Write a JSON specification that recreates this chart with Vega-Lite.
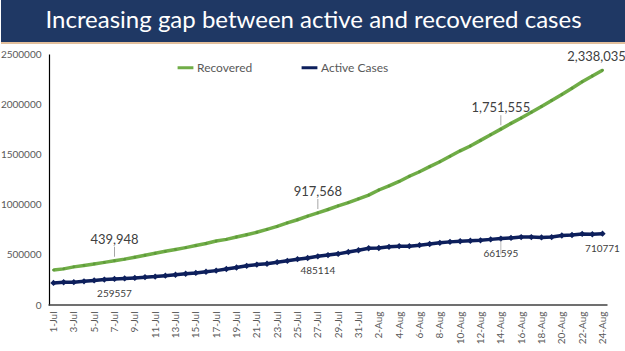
{
  "$schema": "https://vega.github.io/schema/vega-lite/v6.json",
  "padding": 0,
  "spacing": 0,
  "bounds": "full",
  "background": "white",
  "resolve": {"legend": {"color": "independent"}},
  "config": {"view": {"stroke": null}, "font": "Lato"},
  "datasets": {
    "banner": [{"t": "Increasing gap between active and recovered cases"}],
    "blank": [{"t": ""}],
    "series": [
      {"d": "1-Jul", "Recovered": 347979, "Active Cases": 220114},
      {"d": "2-Jul", "Recovered": 359860, "Active Cases": 226947},
      {"d": "3-Jul", "Recovered": 379892, "Active Cases": 227439},
      {"d": "4-Jul", "Recovered": 394227, "Active Cases": 235433},
      {"d": "5-Jul", "Recovered": 409083, "Active Cases": 244814},
      {"d": "6-Jul", "Recovered": 424433, "Active Cases": 253287},
      {"d": "7-Jul", "Recovered": 439948, "Active Cases": 259557},
      {"d": "8-Jul", "Recovered": 456831, "Active Cases": 264944},
      {"d": "9-Jul", "Recovered": 476378, "Active Cases": 269789},
      {"d": "10-Jul", "Recovered": 495513, "Active Cases": 276882},
      {"d": "11-Jul", "Recovered": 515386, "Active Cases": 283407},
      {"d": "12-Jul", "Recovered": 534621, "Active Cases": 292258},
      {"d": "13-Jul", "Recovered": 553471, "Active Cases": 301609},
      {"d": "14-Jul", "Recovered": 571460, "Active Cases": 311565},
      {"d": "15-Jul", "Recovered": 592032, "Active Cases": 319840},
      {"d": "16-Jul", "Recovered": 612815, "Active Cases": 331146},
      {"d": "17-Jul", "Recovered": 636602, "Active Cases": 342473},
      {"d": "18-Jul", "Recovered": 653751, "Active Cases": 358692},
      {"d": "19-Jul", "Recovered": 677423, "Active Cases": 373379},
      {"d": "20-Jul", "Recovered": 700087, "Active Cases": 390459},
      {"d": "21-Jul", "Recovered": 724578, "Active Cases": 402529},
      {"d": "22-Jul", "Recovered": 753050, "Active Cases": 411133},
      {"d": "23-Jul", "Recovered": 782607, "Active Cases": 426167},
      {"d": "24-Jul", "Recovered": 817209, "Active Cases": 440135},
      {"d": "25-Jul", "Recovered": 849432, "Active Cases": 456071},
      {"d": "26-Jul", "Recovered": 885577, "Active Cases": 467882},
      {"d": "27-Jul", "Recovered": 917568, "Active Cases": 485114},
      {"d": "28-Jul", "Recovered": 951166, "Active Cases": 496988},
      {"d": "29-Jul", "Recovered": 988029, "Active Cases": 509447},
      {"d": "30-Jul", "Recovered": 1019735, "Active Cases": 528242},
      {"d": "31-Jul", "Recovered": 1057806, "Active Cases": 545318},
      {"d": "1-Aug", "Recovered": 1094374, "Active Cases": 565103},
      {"d": "2-Aug", "Recovered": 1145629, "Active Cases": 567730},
      {"d": "3-Aug", "Recovered": 1186203, "Active Cases": 579357},
      {"d": "4-Aug", "Recovered": 1230509, "Active Cases": 585587},
      {"d": "5-Aug", "Recovered": 1282215, "Active Cases": 586244},
      {"d": "6-Aug", "Recovered": 1327200, "Active Cases": 595501},
      {"d": "7-Aug", "Recovered": 1378105, "Active Cases": 607384},
      {"d": "8-Aug", "Recovered": 1427005, "Active Cases": 619088},
      {"d": "9-Aug", "Recovered": 1480884, "Active Cases": 628747},
      {"d": "10-Aug", "Recovered": 1535743, "Active Cases": 634945},
      {"d": "11-Aug", "Recovered": 1583489, "Active Cases": 639929},
      {"d": "12-Aug", "Recovered": 1639599, "Active Cases": 643948},
      {"d": "13-Aug", "Recovered": 1695982, "Active Cases": 653622},
      {"d": "14-Aug", "Recovered": 1751555, "Active Cases": 661595},
      {"d": "15-Aug", "Recovered": 1808936, "Active Cases": 668220},
      {"d": "16-Aug", "Recovered": 1862258, "Active Cases": 676514},
      {"d": "17-Aug", "Recovered": 1919842, "Active Cases": 676900},
      {"d": "18-Aug", "Recovered": 1977779, "Active Cases": 673166},
      {"d": "19-Aug", "Recovered": 2037870, "Active Cases": 676514},
      {"d": "20-Aug", "Recovered": 2096664, "Active Cases": 692028},
      {"d": "21-Aug", "Recovered": 2158946, "Active Cases": 697330},
      {"d": "22-Aug", "Recovered": 2222577, "Active Cases": 707668},
      {"d": "23-Aug", "Recovered": 2280566, "Active Cases": 704348},
      {"d": "24-Aug", "Recovered": 2338035, "Active Cases": 710771}
    ],
    "notes": [
      {"d": "7-Jul", "s": "Recovered", "v": 439948, "t": "439,948"},
      {"d": "27-Jul", "s": "Recovered", "v": 917568, "t": "917,568"},
      {"d": "14-Aug", "s": "Recovered", "v": 1751555, "t": "1,751,555"},
      {"d": "24-Aug", "s": "Recovered", "v": 2338035, "t": "2,338,035"},
      {"d": "7-Jul", "s": "Active Cases", "v": 259557, "t": "259557"},
      {"d": "27-Jul", "s": "Active Cases", "v": 485114, "t": "485114"},
      {"d": "14-Aug", "s": "Active Cases", "v": 661595, "t": "661595"},
      {"d": "24-Aug", "s": "Active Cases", "v": 710771, "t": "710771"}
    ],
    "axisline": [{"a": "1-Jul", "b": "24-Aug", "z": 0}]
  },
  "vconcat": [
    {
      "width": 625,
      "height": 42,
      "view": {"fill": "#1F3864", "stroke": null},
      "data": {"name": "banner"},
      "mark": {"type": "text", "color": "white", "fontSize": 24, "font": "Lato", "baseline": "middle", "align": "center"},
      "encoding": {"text": {"field": "t"}}
    },
    {
      "width": 625,
      "height": 2,
      "view": {"fill": "#E2BF9C", "stroke": null},
      "data": {"name": "blank"},
      "mark": {"type": "rect", "color": "#E2BF9C"}
    },
    {
      "width": 625,
      "height": 5,
      "data": {"name": "blank"},
      "mark": {"type": "rect", "opacity": 0}
    },
    {
      "width": 625,
      "height": 251,
      "encoding": {
        "x": {
          "field": "d",
          "type": "ordinal",
          "sort": null,
          "scale": {
            "type": "point",
            "padding": 0,
            "range": [52.5, 601.5],
            "domain": ["1-Jul","2-Jul","3-Jul","4-Jul","5-Jul","6-Jul","7-Jul","8-Jul","9-Jul","10-Jul","11-Jul","12-Jul","13-Jul","14-Jul","15-Jul","16-Jul","17-Jul","18-Jul","19-Jul","20-Jul","21-Jul","22-Jul","23-Jul","24-Jul","25-Jul","26-Jul","27-Jul","28-Jul","29-Jul","30-Jul","31-Jul","1-Aug","2-Aug","3-Aug","4-Aug","5-Aug","6-Aug","7-Aug","8-Aug","9-Aug","10-Aug","11-Aug","12-Aug","13-Aug","14-Aug","15-Aug","16-Aug","17-Aug","18-Aug","19-Aug","20-Aug","21-Aug","22-Aug","23-Aug","24-Aug"]
          },
          "axis": {
            "title": null,
            "values": ["1-Jul","3-Jul","5-Jul","7-Jul","9-Jul","11-Jul","13-Jul","15-Jul","17-Jul","19-Jul","21-Jul","23-Jul","25-Jul","27-Jul","29-Jul","31-Jul","2-Aug","4-Aug","6-Aug","8-Aug","10-Aug","12-Aug","14-Aug","16-Aug","18-Aug","20-Aug","22-Aug","24-Aug"],
            "labelAngle": -90,
            "labelFontSize": 10,
            "labelColor": "#595959",
            "labelPadding": 6,
            "ticks": false,
            "domain": false,
            "grid": false
          }
        },
        "y": {
          "field": "v",
          "type": "quantitative",
          "scale": {"domain": [0, 2500000], "nice": false, "zero": true},
          "axis": {
            "title": null,
            "offset": -48,
            "values": [0, 500000, 1000000, 1500000, 2000000, 2500000],
            "format": "d",
            "labelFontSize": 10,
            "labelColor": "#595959",
            "labelPadding": 8,
            "ticks": false,
            "grid": false,
            "domainColor": "#000000",
            "domainWidth": 1.2
          }
        }
      },
      "layer": [
        {
          "data": {"name": "axisline"},
          "mark": {"type": "rule", "color": "#404040", "strokeWidth": 1.5, "xOffset": -5, "x2Offset": 5},
          "encoding": {
            "x": {"field": "a", "type": "ordinal"},
            "x2": {"field": "b"},
            "y": {"field": "z", "type": "quantitative"}
          }
        },
        {
          "data": {"name": "series"},
          "transform": [{"fold": ["Recovered", "Active Cases"], "as": ["s", "v"]}],
          "mark": {"type": "line", "strokeWidth": 3.5},
          "encoding": {
            "color": {
              "field": "s",
              "type": "nominal",
              "scale": {"domain": ["Recovered", "Active Cases"], "range": ["#70AD47", "#0D1F5C"]},
              "legend": {
                "title": null,
                "orient": "none",
                "direction": "horizontal",
                "legendX": 175,
                "legendY": 4,
                "symbolType": "stroke",
                "symbolStrokeWidth": 3,
                "symbolSize": 250,
                "labelFontSize": 12,
                "labelColor": "#595959",
                "labelOffset": 2,
                "columnPadding": 42
              }
            }
          }
        },
        {
          "data": {"name": "series"},
          "mark": {"type": "point", "filled": true, "opacity": 1, "shape": "circle", "size": 8, "color": "#5E9A3A"},
          "encoding": {"y": {"field": "Recovered", "type": "quantitative"}}
        },
        {
          "data": {"name": "series"},
          "mark": {"type": "point", "filled": true, "opacity": 1, "shape": "diamond", "size": 40, "color": "#0D1F5C"},
          "encoding": {"y": {"field": "Active Cases", "type": "quantitative"}}
        },
        {
          "data": {"name": "notes"},
          "transform": [{"filter": "datum.s === 'Recovered' && datum.d !== '24-Aug'"}],
          "mark": {"type": "tick", "orient": "vertical", "size": 10, "thickness": 1, "yOffset": -9, "color": "#808080"}
        },
        {
          "data": {"name": "notes"},
          "transform": [{"filter": "datum.s === 'Recovered' && datum.d !== '24-Aug'"}],
          "mark": {"type": "text", "dy": -21, "fontSize": 13, "color": "#404040", "font": "Lato"},
          "encoding": {"text": {"field": "t"}}
        },
        {
          "data": {"name": "notes"},
          "transform": [{"filter": "datum.s === 'Recovered' && datum.d === '24-Aug'"}],
          "mark": {"type": "text", "dy": -13, "dx": -6, "fontSize": 13, "color": "#404040", "font": "Lato"},
          "encoding": {"text": {"field": "t"}}
        },
        {
          "data": {"name": "notes"},
          "transform": [{"filter": "datum.d === '14-Aug' && datum.s === 'Active Cases'"}],
          "mark": {"type": "tick", "orient": "vertical", "size": 14, "thickness": 1, "yOffset": 9, "color": "#A0A0A0"}
        },
        {
          "data": {"name": "notes"},
          "transform": [{"filter": "datum.s === 'Active Cases'"}],
          "mark": {"type": "text", "dy": 15, "fontSize": 10, "color": "#404040", "font": "Lato"},
          "encoding": {"text": {"field": "t"}}
        }
      ]
    }
  ]
}
